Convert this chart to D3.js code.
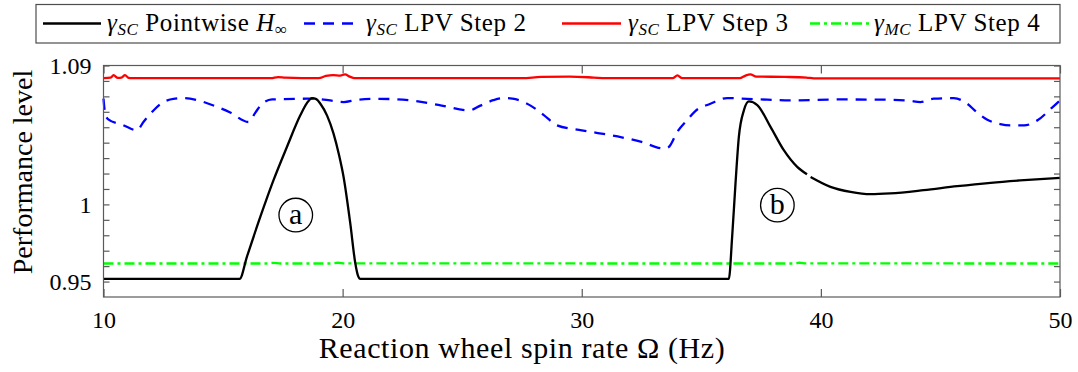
<!DOCTYPE html>
<html><head><meta charset="utf-8">
<script src="https://cdn.jsdelivr.net/npm/d3@7"></script>
<style>
body{margin:0;background:#fff}
svg{display:block}
text{font-family:"Liberation Serif","DejaVu Serif","Noto Serif",Times,serif;fill:#000}
</style>
</head><body>
<svg id="chart" width="1078" height="372"></svg>
<script>
// ---------------- data ----------------
const xTickValues = [10, 20, 30, 40, 50];
const xTickLabels = ["10", "20", "30", "40", "50"];
const yTickValues = [0.95, 1, 1.09];
const yTickLabels = ["0.95", "1", "1.09"];
const yMinorTicks = [0.95,0.96,0.97,0.98,0.99,1.00,1.01,1.02,1.03,1.04,1.05,1.06,1.07,1.08,1.09];

// gamma_SC pointwise H-infinity (null = small gap in the curve)
const pointwiseOmega = [10,15.69,16.0,16.56,17.11,17.67,18.23,18.5,18.72,18.9,19.07,19.35,19.62,19.85,20.04,20.32,20.53,20.65,20.74,
  36.15,36.29,36.43,36.57,36.78,36.99,37.34,37.9,38.45,39.01,39.42,39.5,39.57,40.4,41.24,42.08,42.9,44.3,45.7,47.1,48.5,50];
const pointwiseGamma = [0.9517,0.9517,0.9662,0.992,1.0157,1.0372,1.0577,1.0655,1.0689,1.0682,1.0652,1.0575,1.0459,1.032,1.0178,0.9877,0.9619,0.9535,0.9517,
  0.9517,0.9791,1.0136,1.0437,1.0609,1.0667,1.0644,1.0501,1.0351,1.0243,1.0195,null,1.0178,1.0114,1.0081,1.0066,1.0071,1.0092,1.0118,1.014,1.0157,1.0172];

// gamma_SC LPV step 2
const step2Omega = [10,10.07,10.2,10.8,11.4,11.67,12.1,12.5,13.0,13.35,14.0,14.6,15.3,16.07,16.35,16.63,17.05,18.0,18.8,19.4,20.05,20.6,21.5,22.83,24.0,25.3,25.76,26.3,26.74,27.1,27.86,28.4,28.97,30.0,31.5,32.5,33.43,33.64,33.99,34.4,34.75,35.38,36.08,36.92,37.5,38.7,40.8,42.9,43.7,44.16,44.72,45.56,46.12,46.5,46.96,47.5,47.94,48.5,49.06,49.62,50];
const step2Gamma = [1.0685,1.0588,1.0551,1.0515,1.048,1.0534,1.061,1.0663,1.0685,1.0689,1.0672,1.0641,1.0595,1.0534,1.0595,1.0652,1.068,1.0684,1.0685,1.0675,1.0663,1.0678,1.0684,1.0674,1.0645,1.0609,1.064,1.0675,1.0689,1.0685,1.064,1.058,1.0512,1.048,1.044,1.0405,1.0362,1.0372,1.0469,1.0545,1.0605,1.0652,1.0689,1.0684,1.068,1.0674,1.068,1.0678,1.0672,1.0663,1.0685,1.0689,1.0652,1.06,1.0549,1.052,1.0512,1.0512,1.0545,1.062,1.0674];

// gamma_SC LPV step 3
const step3Omega = [10,10.3,10.42,10.6,10.75,10.9,11.05,11.2,17.0,17.3,17.6,19.0,19.3,19.6,19.9,20.1,20.3,20.5,27.5,28.3,29.5,30.5,31,33.8,34.0,34.2,36.6,36.85,37.05,37.3,38.5,39.4,39.7,50];
const step3Gamma = [1.0818,1.0822,1.0837,1.082,1.0822,1.0837,1.082,1.0818,1.0818,1.0825,1.0822,1.0818,1.0832,1.0838,1.0835,1.0842,1.0828,1.0818,1.0818,1.0826,1.0828,1.0822,1.0818,1.0818,1.0836,1.0818,1.0818,1.0835,1.0842,1.0828,1.0826,1.0822,1.0816,1.0816];

// gamma_MC LPV step 4
const step4Omega = [10,16.8,17.1,17.4,19.5,19.8,20.1,38.8,39.1,39.4,50];
const step4Gamma = [0.9617,0.9617,0.9621,0.9617,0.9617,0.9622,0.9618,0.9617,0.9622,0.9618,0.9617];

const annotationLabels = ["a", "b"];
const annotationOmega = [18.04, 38.18];
const annotationGamma = [0.9931, 0.9995];

// ---------------- layout ----------------
const svg = d3.select("#chart");
const L = 103.5, R = 1060, T = 65.5, B = 297;
const x = d3.scaleLinear().domain([10, 50]).range([L, R]);
const y = d3.scaleLinear().domain([0.94, 1.09]).range([B, T]);
const axisColor = "#5a5a5a";
const FONT = "'Liberation Serif','DejaVu Serif','Noto Serif',Times,serif";

const styles = {
  Pointwise: {color: "#000000", dash: null, width: 2.3},
  Step2: {color: "#0000ff", dash: "11,8", width: 2.3},
  Step3: {color: "#ff0000", dash: null, width: 2.3},
  Step4: {color: "#00ff00", dash: "10,4,3,4", width: 2.3}
};

const mk = (xs, ys) => xs.map((d, i) => ({x: d, y: ys[i]}));
const data = {
  Pointwise: mk(pointwiseOmega, pointwiseGamma),
  Step2: mk(step2Omega, step2Gamma),
  Step3: mk(step3Omega, step3Gamma),
  Step4: mk(step4Omega, step4Gamma)
};

const line = d3.line().defined(d => d.y !== null)
  .x(d => x(d.x)).y(d => y(d.y)).curve(d3.curveMonotoneX);

const g = svg.append("g");
["Step4", "Step3", "Step2", "Pointwise"].forEach(k => {
  g.append("path").datum(data[k]).attr("d", line)
    .attr("fill", "none").attr("stroke", styles[k].color)
    .attr("stroke-width", styles[k].width)
    .attr("stroke-dasharray", styles[k].dash)
    .attr("stroke-linejoin", "round");
});

// annotations
annotationLabels.forEach((t, i) => {
  const cx = x(annotationOmega[i]), cy = y(annotationGamma[i]);
  svg.append("circle").attr("cx", cx).attr("cy", cy).attr("r", 16.8)
    .attr("fill", "none").attr("stroke", "#000").attr("stroke-width", 1.3);
  svg.append("text").attr("x", cx).attr("y", cy + 8.5).attr("text-anchor", "middle")
    .style("font-family", FONT).style("font-size", "30px").text(t);
});

// frame
svg.append("rect").attr("x", L).attr("y", T).attr("width", R - L).attr("height", B - T)
  .attr("fill", "none").attr("stroke", axisColor).attr("stroke-width", 1.2);

// x axis (bottom + top, inward ticks)
const xb = svg.append("g").attr("transform", `translate(0,${B})`)
  .call(d3.axisBottom(x).tickValues(xTickValues).tickFormat((d, i) => xTickLabels[i]).tickSize(-8).tickPadding(20));
const xt = svg.append("g").attr("transform", `translate(0,${T})`)
  .call(d3.axisTop(x).tickValues(xTickValues).tickFormat("").tickSize(-8));
// y axis (left + right, inward ticks)
const yl = svg.append("g").attr("transform", `translate(${L},0)`)
  .call(d3.axisLeft(y).tickValues(yMinorTicks).tickFormat("").tickSize(-6));
const yr = svg.append("g").attr("transform", `translate(${R},0)`)
  .call(d3.axisRight(y).tickValues(yMinorTicks).tickFormat("").tickSize(-6));
const ylab = svg.append("g").attr("transform", `translate(${L},0)`)
  .call(d3.axisLeft(y).tickValues(yTickValues).tickFormat((d, i) => yTickLabels[i]).tickSize(0).tickPadding(12));
[xb, xt, yl, yr, ylab].forEach(a => {
  a.attr("font-family", null);
  a.select(".domain").remove();
  a.selectAll("line").attr("stroke", axisColor).attr("stroke-width", 1.2);
  a.selectAll("text").style("font-family", FONT).style("font-size", "24px").attr("fill", "#000");
});
xb.selectAll("text").attr("dy", "0.71em").attr("y", 14);

// axis titles
svg.append("text").attr("x", 522).attr("y", 358).attr("text-anchor", "middle")
  .style("font-family", FONT).style("font-size", "30px").style("letter-spacing", "0.6px")
  .text("Reaction wheel spin rate Ω (Hz)");
svg.append("text").attr("transform", "translate(32,172) rotate(-90)").attr("text-anchor", "middle")
  .style("font-family", FONT).style("font-size", "28px").text("Performance level");

// legend
const lg = svg.append("g");
lg.append("rect").attr("x", 36).attr("y", 4.5).attr("width", 1024).attr("height", 38.5)
  .attr("fill", "#fff").attr("stroke", "#4d4d4d").attr("stroke-width", 1.2);
const legendItems = [
  {k: "Pointwise", x0: 43, x1: 101, tx: 107, sub: "SC", rest: " Pointwise ", h: true},
  {k: "Step2", x0: 304, x1: 358, tx: 366, sub: "SC", rest: " LPV Step 2", h: false},
  {k: "Step3", x0: 562, x1: 621, tx: 628, sub: "SC", rest: " LPV Step 3", h: false},
  {k: "Step4", x0: 810, x1: 869, tx: 874, sub: "MC", rest: " LPV Step 4", h: false}
];
legendItems.forEach(it => {
  const s = styles[it.k];
  lg.append("line").attr("x1", it.x0).attr("x2", it.x1).attr("y1", 23.5).attr("y2", 23.5)
    .attr("stroke", s.color).attr("stroke-width", s.width).attr("stroke-dasharray", s.dash);
  const t = lg.append("text").attr("x", it.tx).attr("y", 31)
    .style("font-family", FONT).style("font-size", "25px").style("letter-spacing", "0.6px");
  t.append("tspan").style("font-style", "italic").text("γ");
  t.append("tspan").style("font-style", "italic").style("font-size", "17px").attr("dy", 4).text(it.sub);
  t.append("tspan").attr("dy", -4).text(it.rest);
  if (it.h) {
    t.append("tspan").style("font-style", "italic").text("H");
    t.append("tspan").style("font-size", "17px").attr("dy", 4).text("∞");
  }
});
</script>
</body></html>
